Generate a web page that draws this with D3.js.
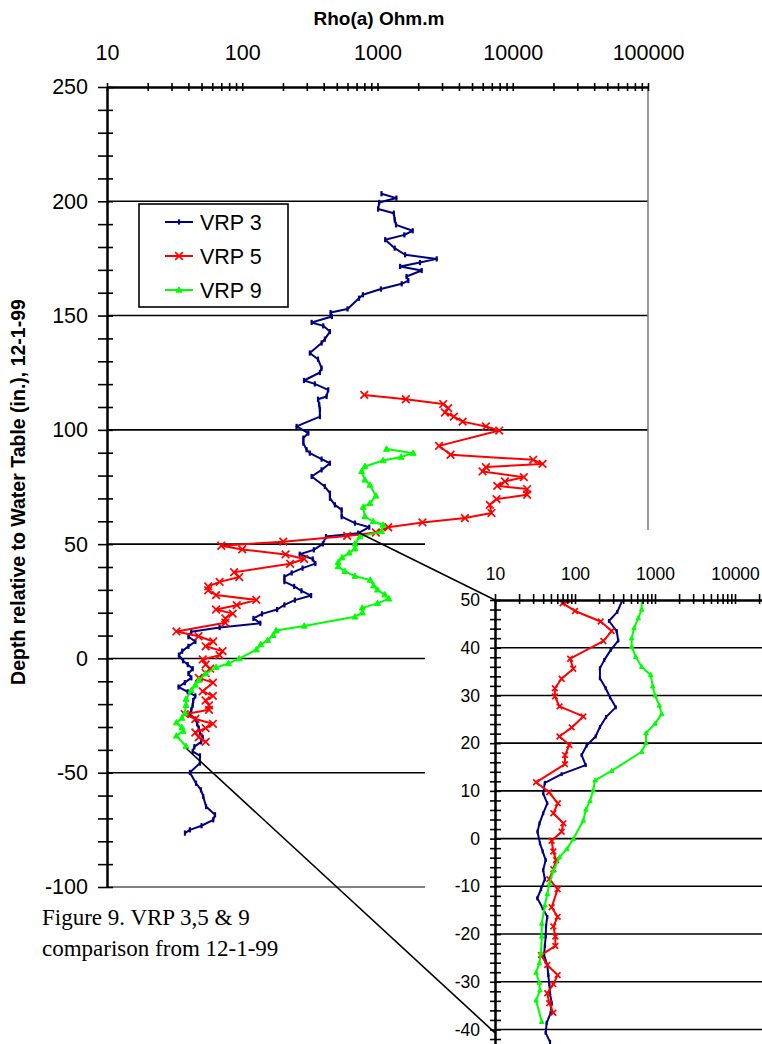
<!DOCTYPE html>
<html><head><meta charset="utf-8">
<script src="https://cdn.jsdelivr.net/npm/d3@7"></script>
<style>body{margin:0;background:#fff}svg{display:block}</style>
</head><body>
<svg id="c" width="762" height="1044"></svg>
<script>
// ---------- data ----------
const rhoTickLabels = ["10","100","1000","10000","100000"];
const insetRhoLabels = ["10","100","1000","10000"];
const depthTicksMain = [250,200,150,100,50,0,-50,-100];
const depthGridMain = [200,150,100,50,0,-50];
const insetDepthTicks = [50,40,30,20,10,0,-10,-20,-30,-40];
const insetGrid = [40,30,20,10,0,-10,-20,-30,-40,-50];
const seriesNames = ["VRP 3","VRP 5","VRP 9"];
const seriesColors = ["#000080","#ff0000","#00ff00"];

// [depth (in.), Rho(a) (Ohm.m)]
const vrp3 = [[203.3,1070],[201.4,1380],[199.5,1030],[196.6,1010],[194.8,1320],[191.9,1340],[189.7,1370],[187.1,1820],[185.3,1580],[183.2,1140],[179.5,1340],[176.6,1600],[174.8,2740],[173.2,2060],[171.5,1470],[169.7,2120],[167.1,1640],[165.3,1690],[163.9,1510],[161.6,1060],[159.1,780],[157.6,730],[152.9,600],[151.3,450],[149.6,460],[147,326],[145.5,397],[143,445],[139.7,408],[138,386],[133.6,316],[130.9,363],[127,386],[125.1,375],[121.6,286],[120.1,344],[117.5,432],[114.6,420],[113.4,363],[111,371],[108.8,375],[105.8,375],[101.5,252],[98.6,308],[96.4,283],[94.2,283],[91.3,299],[89.8,316],[87.2,386],[85.4,445],[82.5,386],[79.6,326],[75.2,408],[72.3,445],[70.1,445],[67.2,484],[65,543],[62,543],[59.2,681],[57.4,869],[54.8,720],[53.3,416],[50.1,394],[47.5,338],[45.6,266],[43.5,332],[41.5,347],[39.5,279],[37.4,232],[35.7,205],[33.6,205],[31.5,242],[29.6,274],[27.5,323],[25.5,245],[23.4,205],[21.4,181],[19.5,140],[17.5,121],[15.4,136],[13.5,68],[11.7,42],[9.5,40],[7.4,45],[5.3,40],[3.2,36],[1.45,34],[-1,36.5],[-2.7,39.5],[-4.5,43],[-6.6,40],[-8.5,42],[-10.6,37.6],[-12.5,33.8],[-14.6,39.5],[-16.4,45],[-18.4,43.4],[-20.5,43],[-22.5,42],[-24.4,41],[-26.5,45],[-28.6,46.4],[-30.5,47.7],[-32.4,48.7],[-34.5,51],[-36.5,49.7],[-38.6,44.3],[-40.7,43],[-42.6,48.7],[-45.8,48.6],[-49.9,41],[-54.6,45.5],[-57.5,49.5],[-60.4,51.5],[-64.8,54],[-68.4,62.9],[-70.6,61],[-73.2,50],[-75,41],[-76.4,37.7]];

const vrp5 = [[115.3,798],[113.4,1620],[111.3,3060],[109.5,3330],[107.6,3150],[105.8,3670],[103.6,4260],[101.5,6330],[99.7,7940],[93,2850],[89.1,3470],[86.9,14150],[85.1,16600],[83.7,6330],[81.8,5980],[79.3,12080],[77.4,8750],[75.5,7680],[74.1,12770],[71.6,12770],[69.7,7590],[67.2,6760],[63.6,6960],[61.4,4430],[59.5,2150],[57.4,1200],[55.1,973],[53.6,597],[51.1,201],[49.3,70],[47.7,100],[45.5,209],[43.5,287],[41.4,226],[37.7,87],[35.6,95],[33.5,68],[31.5,56],[29.8,56],[27.7,64],[25.6,127],[23.3,91],[21.4,64],[19.6,85],[17.5,75],[15.6,75],[11.8,32.6],[9.7,47.5],[7.4,61],[5.3,53.6],[3.2,71.5],[1.45,68],[-0.44,51],[-2.7,53.6],[-4.5,58],[-6.4,53.6],[-8.5,47.7],[-10.6,60.7],[-14.4,51],[-16.4,60.7],[-18.4,53.6],[-20.5,56.8],[-22.5,56.8],[-24.4,37.6],[-26.5,45],[-28.6,60.7],[-30.5,53.6],[-32.4,45],[-34.5,47.7],[-36.5,53.6]];

const vrp9 = [[91.6,1167],[89.8,1836],[88.1,1490],[86.6,1100],[84,807],[81.8,763],[78.1,807],[75.9,879],[71.1,973],[67.9,879],[66.2,784],[62.1,807],[59.9,929],[58.4,1100],[55.5,1072],[53.3,741],[50.1,681],[48,681],[46.2,618],[44.1,547],[42,511],[40.2,511],[38.1,574],[36,681],[34.3,883],[31.9,936],[30,1000],[27.9,1132],[26.1,1213],[24.1,1000],[22.1,772],[20,772],[18.2,681],[14.2,287],[12.2,178],[10.1,169],[7.9,154],[6.1,137],[3.8,127],[-0.1,95],[-2.2,79],[-3.9,64],[-6.7,53.6],[-9.5,47.8],[-11.6,45],[-14,42],[-17.8,38.4],[-20.5,38.4],[-23.9,37.6],[-26.1,35.8],[-28.1,32.6],[-30.2,35.8],[-31.8,36.5],[-33.9,32.6],[-38.4,38.4]];

// zoom connectors: [main depth, main rho] -> [inset depth, inset rho]
const connectors = [[[55,730],[50,10]],[[-39.5,38.8],[-40.7,10]]];

// ---------- drawing ----------
const svg = d3.select("#c");
const FONT = "'Liberation Sans', Arial, sans-serif";
const decades = rhoTickLabels.map(Number);
const rhoTicks = [];
decades.slice(0,-1).forEach(d => { for (let m=1;m<10;m++) rhoTicks.push(m*d); });
rhoTicks.push(decades[decades.length-1]);

const xM = d3.scaleLog().domain([10,100000]).range([107,648]);
const yM = d3.scaleLinear().domain([-100,250]).range([887,87]);
const xI = d3.scaleLog().domain([10,100000]).range([495,815]);
const yI = d3.scaleLinear().domain([-50,50]).range([1077.2,600]);

const defs = svg.append("defs");
defs.append("clipPath").attr("id","clipM").append("rect").attr("x",107).attr("y",87).attr("width",541).attr("height",800);
defs.append("clipPath").attr("id","clipI").append("rect").attr("x",495).attr("y",600).attr("width",320).attr("height",480);

// main grid
const gGrid = svg.append("g");
gGrid.selectAll("line").data(depthGridMain).join("line")
  .attr("x1",xM(10)).attr("x2",xM(100000)).attr("y1",d=>yM(d)).attr("y2",d=>yM(d))
  .attr("stroke","#000").attr("stroke-width",1.6);
// plot border right & bottom (gray)
svg.append("line").attr("x1",xM(100000)).attr("x2",xM(100000)).attr("y1",yM(250)).attr("y2",yM(-100)).attr("stroke","#808080").attr("stroke-width",1.6);
svg.append("line").attr("x1",xM(10)).attr("x2",xM(100000)).attr("y1",yM(-100)).attr("y2",yM(-100)).attr("stroke","#808080").attr("stroke-width",2);

const series = [vrp3, vrp5, vrp9];
const markers = ["bar","x","tri"];
function markerPath(type, s) {
  if (type==="bar") return `M0,${-2.6*s}V${2.6*s}`;
  if (type==="x") return `M${-3.8*s},${-3.8*s}L${3.8*s},${3.8*s}M${-3.8*s},${3.8*s}L${3.8*s},${-3.8*s}`;
  return `M0,${-3.2*s}L${3*s},${2.2*s}L${-3*s},${2.2*s}Z`;
}
function drawSeries(g, x, y, data, i, s, lw) {
  const line = d3.line().x(d=>x(d[1])).y(d=>y(d[0]));
  g.append("path").attr("d", line(data)).attr("fill","none")
    .attr("stroke", seriesColors[i]).attr("stroke-width", lw).attr("stroke-linejoin","round");
  const t = markers[i];
  g.append("g").selectAll("path").data(data).join("path")
    .attr("transform", d=>`translate(${x(d[1])},${y(d[0])})`)
    .attr("d", markerPath(t, s))
    .attr("fill", t==="tri" ? seriesColors[i] : "none")
    .attr("stroke", seriesColors[i])
    .attr("stroke-width", t==="tri" ? 1 : (t==="bar" ? 2.2 : 1.7));
}

const gMain = svg.append("g").attr("clip-path","url(#clipM)");
series.forEach((d,i)=>drawSeries(gMain, xM, yM, d, i, 1, 2));

function styleAxis(g, size, fam) {
  g.attr("font-size", size).attr("font-family", fam || FONT);
  g.selectAll("line").attr("stroke","#000").attr("stroke-width",1.6);
  g.selectAll("path.domain").attr("stroke","#000").attr("stroke-width",2);
  g.selectAll("text").attr("fill","#000");
}

// main x axis (top), ticks crossing
const gxT = svg.append("g").attr("transform",`translate(0,${yM(250)})`)
  .call(d3.axisTop(xM).tickValues(rhoTicks).tickSizeInner(4).tickSizeOuter(0).tickPadding(23)
    .tickFormat(d => decades.includes(d) ? rhoTickLabels[decades.indexOf(d)] : ""));
styleAxis(gxT, 21.5);
const gxB = svg.append("g").attr("transform",`translate(0,${yM(250)})`)
  .call(d3.axisBottom(xM).tickValues(rhoTicks).tickSizeInner(4).tickSizeOuter(0).tickFormat(""));
styleAxis(gxB, 21.5);

// main y axis
const depthMinor = d3.range(-100, 251, 10);
const gyL = svg.append("g").attr("transform",`translate(${xM(10)},0)`)
  .call(d3.axisLeft(yM).tickValues(depthMinor).tickSizeInner(9).tickSizeOuter(0).tickPadding(10)
    .tickFormat(d => depthTicksMain.includes(d) ? String(d) : ""));
styleAxis(gyL, 21.5);
const gyR = svg.append("g").attr("transform",`translate(${xM(10)},0)`)
  .call(d3.axisRight(yM).tickValues(depthMinor).tickSizeInner(6).tickSizeOuter(0).tickFormat(""));
styleAxis(gyR, 21.5);

// legend
const lg = svg.append("g");
lg.append("rect").attr("x",139).attr("y",204).attr("width",149).attr("height",103)
  .attr("fill","#fff").attr("stroke","#000").attr("stroke-width",1.6);
seriesNames.forEach((n,i)=>{
  const yy = 222 + i*34;
  lg.append("line").attr("x1",165).attr("x2",193).attr("y1",yy).attr("y2",yy)
    .attr("stroke",seriesColors[i]).attr("stroke-width",2);
  lg.append("path").attr("transform",`translate(179,${yy})`).attr("d",markerPath(markers[i],1))
    .attr("fill", markers[i]==="tri" ? seriesColors[i] : "none").attr("stroke",seriesColors[i])
    .attr("stroke-width", markers[i]==="tri"?1:(markers[i]==="bar"?2.2:1.7));
  lg.append("text").attr("x",200).attr("y",yy+7.5).attr("font-family",FONT).attr("font-size",21.5).text(n);
});

// titles
svg.append("text").attr("x",379).attr("y",25).attr("text-anchor","middle")
  .attr("font-family",FONT).attr("font-weight","bold").attr("font-size",19).text("Rho(a) Ohm.m");
svg.append("text").attr("transform","translate(25,492) rotate(-90)").attr("text-anchor","middle")
  .attr("font-family",FONT).attr("font-weight","bold").attr("font-size",19.5)
  .text("Depth relative to Water Table (in.), 12-1-99");

// caption
const cap = svg.append("text").attr("font-family","'Liberation Serif','Times New Roman',serif").attr("font-size",23);
cap.append("tspan").attr("x",42).attr("y",925).text("Figure 9. VRP 3,5 & 9");
cap.append("tspan").attr("x",42).attr("y",956).text("comparison from 12-1-99");

// ---------- inset ----------
svg.append("rect").attr("x",425).attr("y",530).attr("width",337).attr("height",514).attr("fill","#fff");
svg.append("g").selectAll("line").data(insetGrid).join("line")
  .attr("x1",xI(10)).attr("x2",xI(100000)).attr("y1",d=>yI(d)).attr("y2",d=>yI(d))
  .attr("stroke","#000").attr("stroke-width",1.6);
const gIn = svg.append("g").attr("clip-path","url(#clipI)");
series.forEach((d,i)=>drawSeries(gIn, xI, yI, d, i, 0.75, 2));

const ixT = svg.append("g").attr("transform",`translate(0,${yI(50)})`)
  .call(d3.axisTop(xI).tickValues(rhoTicks).tickSizeInner(6).tickSizeOuter(0).tickPadding(14)
    .tickFormat(d => insetRhoLabels.includes(String(d)) ? String(d) : ""));
styleAxis(ixT, 17.5);
const ixB = svg.append("g").attr("transform",`translate(0,${yI(50)})`)
  .call(d3.axisBottom(xI).tickValues(rhoTicks).tickSizeInner(4).tickSizeOuter(0).tickFormat(""));
styleAxis(ixB, 17.5);
const insetMinor = d3.range(-50, 51, 2);
const iyL = svg.append("g").attr("transform",`translate(${xI(10)},0)`)
  .call(d3.axisLeft(yI).tickValues(insetMinor).tickSizeInner(5).tickSizeOuter(0).tickPadding(10)
    .tickFormat(d => insetDepthTicks.includes(d) ? String(d) : ""));
styleAxis(iyL, 17.5);
const iyR = svg.append("g").attr("transform",`translate(${xI(10)},0)`)
  .call(d3.axisRight(yI).tickValues(insetMinor).tickSizeInner(6).tickSizeOuter(0).tickFormat(""));
styleAxis(iyR, 17.5);

// connectors
svg.append("g").selectAll("line").data(connectors).join("line")
  .attr("x1",d=>xM(d[0][1])).attr("y1",d=>yM(d[0][0]))
  .attr("x2",d=>xI(d[1][1])).attr("y2",d=>yI(d[1][0]))
  .attr("stroke","#000").attr("stroke-width",1.6);
</script>
</body></html>
